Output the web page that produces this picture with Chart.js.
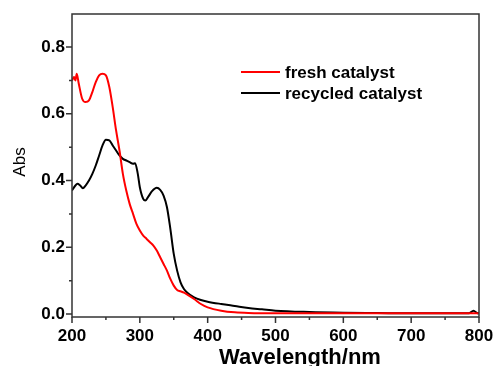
<!DOCTYPE html>
<html>
<head>
<meta charset="utf-8">
<script src="https://cdn.jsdelivr.net/npm/chart.js@4"></script>
<style>
  body { margin: 0; background: #fff; }
  canvas { display: block; }
</style>
</head>
<body>
<canvas id="grafico" width="495" height="366"></canvas>
<script>
// Espectros UV-Vis
const ondaFresco = [200, 203, 205, 207, 210, 215, 220, 225, 230, 235, 240, 245, 250, 255, 260, 265, 270, 275, 280, 285, 290, 295, 300, 305, 310, 315, 320, 325, 330, 335, 340, 345, 350, 355, 360, 365, 370, 380, 390, 400, 420, 440, 460, 500, 600, 700, 800];
const absFresco = [0.70, 0.71, 0.70, 0.72, 0.69, 0.645, 0.635, 0.64, 0.665, 0.695, 0.715, 0.72, 0.715, 0.68, 0.62, 0.55, 0.49, 0.42, 0.37, 0.33, 0.30, 0.27, 0.25, 0.235, 0.225, 0.215, 0.205, 0.19, 0.17, 0.15, 0.13, 0.105, 0.085, 0.072, 0.068, 0.064, 0.058, 0.045, 0.03, 0.02, 0.01, 0.005, 0.003, 0.002, 0.002, 0.002, 0.002];

const ondaReciclado = [200, 205, 208, 212, 216, 220, 225, 230, 235, 240, 245, 250, 255, 260, 265, 270, 275, 280, 285, 290, 293, 297, 300, 305, 308, 312, 318, 325, 330, 335, 340, 345, 350, 355, 360, 365, 370, 380, 390, 400, 420, 440, 460, 480, 500, 550, 600, 650, 700, 750, 785, 792, 797, 800];
const absReciclado = [0.37, 0.385, 0.39, 0.385, 0.377, 0.385, 0.40, 0.42, 0.445, 0.475, 0.505, 0.522, 0.52, 0.505, 0.49, 0.475, 0.465, 0.46, 0.455, 0.45, 0.452, 0.42, 0.38, 0.345, 0.34, 0.35, 0.368, 0.378, 0.372, 0.355, 0.32, 0.255, 0.18, 0.13, 0.095, 0.075, 0.064, 0.05, 0.042, 0.037, 0.03, 0.024, 0.018, 0.014, 0.01, 0.006, 0.004, 0.003, 0.002, 0.002, 0.002, 0.01, 0.003, 0.002];

const rotulos = ['fresh catalyst', 'recycled catalyst'];
const cores = ['#ff0000', '#000000'];
const tituloX = 'Wavelength/nm';
const tituloY = 'Abs';

function pares(xs, ys) {
    return xs.map((x, i) => ({ x: x, y: ys[i] }));
}

const fonteTicks = { family: 'Liberation Sans, Arial, sans-serif', size: 17, weight: 'bold' };

// moldura, marcas dos eixos, títulos e legenda
const extras = {
    id: 'extras',
    afterDraw(chart) {
        const ctx = chart.ctx;
        const a = chart.chartArea;
        const sx = chart.scales.x;
        const sy = chart.scales.y;
        ctx.save();
        ctx.strokeStyle = '#333';
        ctx.lineWidth = 1.5;
        ctx.strokeRect(a.left, a.top, a.right - a.left, a.bottom - a.top);

        ctx.beginPath();
        for (let v = 200; v <= 800; v += 50) {
            const px = sx.getPixelForValue(v);
            const len = v % 100 === 0 ? 6 : 3;
            ctx.moveTo(px, a.bottom);
            ctx.lineTo(px, a.bottom + len);
        }
        for (let k = 0; k <= 8; k++) {
            const py = sy.getPixelForValue(k / 10);
            const len = k % 2 === 0 ? 6 : 3;
            ctx.moveTo(a.left, py);
            ctx.lineTo(a.left - len, py);
        }
        ctx.stroke();

        ctx.fillStyle = '#000';
        ctx.font = 'bold 22px Liberation Sans, Arial, sans-serif';
        ctx.textAlign = 'center';
        ctx.textBaseline = 'alphabetic';
        ctx.fillText(tituloX, 300, 364);

        ctx.font = '17px Liberation Sans, Arial, sans-serif';
        ctx.translate(20, 162);
        ctx.rotate(-Math.PI / 2);
        ctx.textBaseline = 'middle';
        ctx.fillText(tituloY, 0, 0);
        ctx.restore();

        ctx.save();
        ctx.font = 'bold 17px Liberation Sans, Arial, sans-serif';
        ctx.textBaseline = 'middle';
        ctx.textAlign = 'left';
        const ys = [72, 93];
        chart.data.datasets.forEach((ds, i) => {
            ctx.strokeStyle = ds.borderColor;
            ctx.lineWidth = 2;
            ctx.beginPath();
            ctx.moveTo(241, ys[i]);
            ctx.lineTo(280, ys[i]);
            ctx.stroke();
            ctx.fillStyle = '#000';
            ctx.fillText(ds.label, 285, ys[i] + 1);
        });
        ctx.restore();
    }
};

new Chart(document.getElementById('grafico'), {
    type: 'line',
    data: {
        datasets: [
            { label: rotulos[0], data: pares(ondaFresco, absFresco), borderColor: cores[0], borderWidth: 2, pointRadius: 0, cubicInterpolationMode: 'monotone', fill: false },
            { label: rotulos[1], data: pares(ondaReciclado, absReciclado), borderColor: cores[1], borderWidth: 2, pointRadius: 0, cubicInterpolationMode: 'monotone', fill: false }
        ]
    },
    options: {
        responsive: false,
        animation: false,
        layout: { padding: { top: 14, right: 16, left: 0, bottom: 0 } },
        plugins: { legend: { display: false }, tooltip: { enabled: false } },
        scales: {
            x: {
                type: 'linear',
                min: 200,
                max: 800,
                border: { display: false },
                grid: { display: false, drawTicks: false },
                ticks: {
                    stepSize: 50,
                    autoSkip: false,
                    maxRotation: 0,
                    padding: 9,
                    color: '#000',
                    font: fonteTicks,
                    callback: v => (v % 100 === 0 ? String(v) : '')
                },
                afterFit: s => { s.height = 49; s.paddingLeft = 0; s.paddingRight = 0; }
            },
            y: {
                min: -0.009,
                max: 0.899,
                border: { display: false },
                grid: { display: false, drawTicks: false },
                ticks: {
                    stepSize: 0.1,
                    includeBounds: false,
                    padding: 7,
                    color: '#000',
                    font: fonteTicks,
                    callback: v => (Math.round(v * 10) % 2 === 0 ? v.toFixed(1) : '')
                },
                afterFit: s => { s.width = 72; s.paddingTop = 0; s.paddingBottom = 0; }
            }
        }
    },
    plugins: [extras]
});
</script>
</body>
</html>
